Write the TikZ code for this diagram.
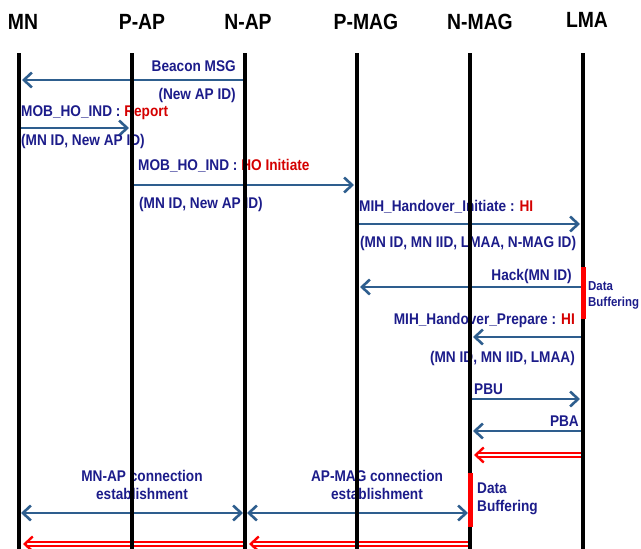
\documentclass[tikz,border=0pt]{standalone}
\usepackage{fontspec}
\setmainfont{Liberation Sans}
\newfontfamily\lblfont{Liberation Sans}[FakeStretch=0.88]
\usetikzlibrary{arrows.meta,calc,positioning}
\definecolor{msgblue}{HTML}{2E5E8E}
\definecolor{txtblue}{HTML}{1C1C8A}
\definecolor{hired}{HTML}{D40000}

\begin{document}
\begin{tikzpicture}[x=1pt,y=-1pt,
    head/.style={font=\lblfont\fontsize{22}{22}\selectfont\bfseries,inner sep=0pt},
    life/.style={line width=3.2pt,black},
    msg/.style={draw=msgblue,line width=2.6pt,shorten >=3pt,-{Straight Barb[length=8pt,width=15pt]}},
    both/.style={draw=msgblue,line width=2.6pt,shorten >=2pt,shorten <=2pt,
                 {Straight Barb[length=8pt,width=15pt]}-{Straight Barb[length=8pt,width=15pt]}},
    fwd/.style={draw=red,double=white,line width=1.7pt,double distance=2pt,shorten >=4pt,
                -{Straight Barb[length=8pt,width=15pt,line width=2.4pt]}},
    lbl/.style={font=\lblfont\fontsize{15.5}{18}\selectfont\bfseries,text=txtblue,inner sep=0pt},
    buf/.style={draw=red,line width=5pt},
    note/.style={font=\lblfont\fontsize{13}{16}\selectfont\bfseries,text=txtblue,inner sep=0pt,align=left}]

  \useasboundingbox (0,0) rectangle (641,549);

  % entities
  \node[head] (hMN)   at (23,22)  {MN};
  \node[head] (hPAP)  at (142,22) {P-AP};
  \node[head] (hNAP)  at (248,22) {N-AP};
  \node[head] (hPMAG) at (366,22) {P-MAG};
  \node[head] (hNMAG) at (480,22) {N-MAG};
  \node[head] (hLMA)  at (587,20) {LMA};

  \coordinate (MN)   at (19,53);
  \coordinate (PAP)  at (132,53);
  \coordinate (NAP)  at (245,53);
  \coordinate (PMAG) at (357,53);
  \coordinate (NMAG) at (470,53);
  \coordinate (LMA)  at (583,53);

  % messages
  \draw[msg] (NAP |- 0,80) -- (MN |- 0,80);
  \node[lbl,anchor=east] (lBeacon)  at (236,66) {Beacon MSG};
  \node[lbl,anchor=east] (pBeacon)  at (236,95) {(New AP ID)};

  \draw[msg] (MN |- 0,128) -- (PAP |- 0,128);
  \node[lbl,anchor=west] (lReport)  at (21,113) {MOB\_HO\_IND : \textcolor{hired}{Report}};
  \node[lbl,anchor=west] (pReport)  at (21,141) {(MN ID, New AP ID)};

  \draw[msg] (PAP |- 0,185) -- (PMAG |- 0,185);
  \node[lbl,anchor=west] (lHOI)     at (138,166) {MOB\_HO\_IND : \textcolor{hired}{HO Initiate}};
  \node[lbl,anchor=west] (pHOI)     at (139,204) {(MN ID, New AP ID)};

  \draw[msg] (PMAG |- 0,224) -- (LMA |- 0,224);
  \node[lbl,anchor=west] (lHI)      at (359,207) {MIH\_Handover\_Initiate : \textcolor{hired}{HI}};
  \node[lbl,anchor=west] (pHI)      at (360,243) {(MN ID, MN IID, LMAA, N-MAG ID)};

  \draw[msg] (LMA |- 0,287) -- (PMAG |- 0,287);
  \node[lbl,anchor=east] (lHack)    at (572,276) {Hack(MN ID)};

  \draw[msg] (LMA |- 0,337) -- (NMAG |- 0,337);
  \node[lbl,anchor=east] (lPrep)    at (575,320) {MIH\_Handover\_Prepare : \textcolor{hired}{HI}};
  \node[lbl,anchor=east] (pPrep)    at (575,358) {(MN ID, MN IID, LMAA)};

  \draw[msg] (NMAG |- 0,399) -- (LMA |- 0,399);
  \node[lbl,anchor=west] (lPBU)     at (474,389) {PBU};

  \draw[msg] (LMA |- 0,431) -- (NMAG |- 0,431);
  \node[lbl,anchor=east] (lPBA)     at (579,421) {PBA};

  \draw[fwd] (LMA |- 0,455) -- (NMAG |- 0,455);

  \draw[both] (MN |- 0,513) -- (NAP |- 0,513);
  \node[lbl,align=center] (lMNAP)   at (142,485) {MN-AP connection\\establishment};
  \draw[both] (NAP |- 0,513) -- (NMAG |- 0,513);
  \node[lbl,align=center] (lAPMAG)  at (377,485) {AP-MAG connection\\establishment};

  \draw[fwd] (NMAG |- 0,544) -- (NAP |- 0,544);
  \draw[fwd] (NAP |- 0,544) -- (MN |- 0,544);

  % lifelines
  \foreach \e in {MN,PAP,NAP,PMAG,NMAG,LMA}
    \draw[life] (\e) -- (\e |- 0,549);

  % buffering
  \draw[buf] (LMA |- 0,267) -- (LMA |- 0,319);
  \node[note,anchor=west] (nLMA)    at (588,295) {Data\\Buffering};
  \draw[buf] (NMAG |- 0,473) -- (NMAG |- 0,527);
  \node[note,anchor=west,font=\lblfont\fontsize{15.5}{18}\selectfont\bfseries] (nNMAG) at (477,499) {Data\\Buffering};

\end{tikzpicture}
\end{document}
